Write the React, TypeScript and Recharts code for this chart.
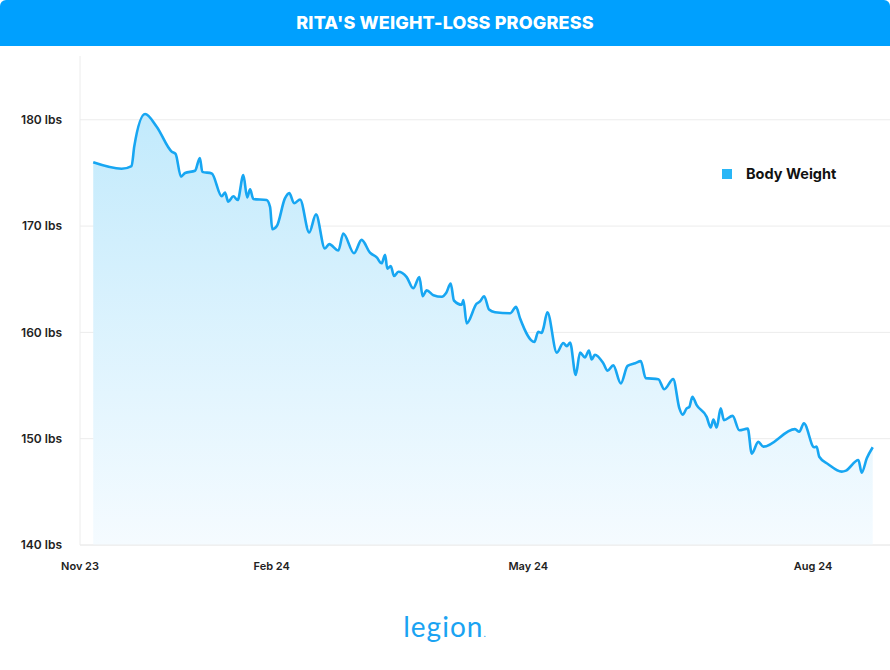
import * as React from "react"
import {
  AreaChart,
  Area,
  XAxis,
  YAxis,
  CartesianGrid,
  Legend,
} from "recharts"

// weigh-in position along the timeline (day index) and weight in lbs
const days = [
  4.9, 15.4, 19.1, 20.1, 24.1, 28.4, 34.0, 35.4, 37.4, 38.9, 42.6, 44.4, 45.3, 48.8,
  52.5, 53.7, 54.9, 56.8, 58.4, 60.5, 61.9, 63.0, 64.2, 69.1, 70.4, 71.2, 72.9, 75.9,
  77.5, 79.3, 81.5, 84.9, 87.4, 90.7, 92.3, 95.7, 97.5, 101.5, 104.3, 107.4, 109.9,
  111.7, 113.0, 113.8, 115.1, 116.3, 117.9, 121.0, 123.4, 125.7, 126.9, 128.4, 130.9,
  134.0, 135.6, 137.3, 138.5, 141.4, 142.0, 143.2, 146.9, 148.1, 149.7, 151.5, 153.7,
  159.3, 161.5, 163.0, 168.3, 169.7, 171.0, 171.6, 173.1, 176.6, 179.0, 180.3, 181.5,
  183.6, 185.2, 187.0, 188.5, 189.5, 190.7, 193.8, 195.4, 197.5, 200.3, 202.8, 205.6,
  207.7, 209.5, 214.2, 216.4, 219.7, 222.0, 223.2, 224.7, 225.7, 226.8, 228.4, 232.1,
  233.6, 234.6, 235.8, 237.3, 238.5, 241.7, 244.2, 247.3, 248.8, 251.2, 253.1, 264.8,
  266.4, 268.1, 271.9, 272.8, 273.8, 277.1, 282.1, 283.7, 288.3, 289.5, 291.4, 293.6,
]

const weights = [
  176.0, 175.4, 175.65, 177.5, 180.55, 179.35, 177.0, 176.8, 174.65, 175.0, 175.2, 176.4,
  175.1, 174.95, 172.8, 173.15, 172.3, 172.8, 172.45, 174.8, 172.7, 173.45, 172.55,
  172.45, 171.8, 169.7, 170.0, 172.6, 173.1, 172.15, 172.5, 169.4, 171.1, 167.9, 168.3,
  167.7, 169.3, 167.45, 168.7, 167.5, 167.05, 166.5, 167.3, 166.0, 166.25, 165.3, 165.7,
  165.2, 164.15, 165.2, 163.4, 163.95, 163.5, 163.35, 163.7, 164.6, 163.0, 162.6, 163.05,
  160.85, 162.7, 162.9, 163.4, 162.15, 161.9, 161.8, 162.4, 161.3, 159.1, 160.05, 159.95,
  160.35, 161.9, 158.1, 159.0, 158.7, 159.05, 156.0, 158.1, 157.65, 158.3, 157.45, 157.9,
  157.1, 156.4, 156.9, 155.2, 156.85, 157.1, 157.3, 155.7, 155.6, 154.65, 155.6, 152.85,
  152.25, 152.85, 153.0, 153.95, 153.15, 152.05, 151.05, 151.8, 151.05, 152.85, 151.75,
  152.15, 150.8, 150.95, 148.6, 149.7, 149.25, 150.9, 150.65, 151.45, 149.2, 149.25,
  148.3, 147.6, 146.9, 147.0, 148.0, 146.8, 148.15, 149.2,
]

const monthTicks = [0, 71, 166, 271.5]
const monthLabels = ["Nov 23", "Feb 24", "May 24", "Aug 24"]
const weightTicks = [140, 150, 160, 170, 180]
const weightDomain = [140, 186]

const BLUE = "#00a0fe"
const LINE = "#17a6f2"
const FONT = "Inter, 'Noto Sans', sans-serif"

const rows = days.map((d, i) => ({ day: d, weight: weights[i] }))

// grid lines only at the labelled weights (no line along the top edge)
const gridRows = ({ offset }: any) => {
  const [lo, hi] = weightDomain
  return weightTicks.map((t) => offset.top + (offset.height * (hi - t)) / (hi - lo))
}

function LegendBox() {
  return (
    <div style={{ display: "flex", alignItems: "center", fontFamily: FONT }}>
      <span style={{ width: 10, height: 10, background: "#29b6f6", display: "inline-block" }} />
      <span style={{ marginLeft: 14, fontSize: 14.5, fontWeight: 700, color: "#111" }}>
        Body Weight
      </span>
    </div>
  )
}

export default function App() {
  return (
    <div style={{ position: "relative", width: 890, height: 670, background: "#fff", fontFamily: FONT }}>
      <style>{`body{margin:0}`}</style>
      <div
        style={{
          position: "absolute",
          top: 0,
          left: 0,
          width: 890,
          height: 46,
          background: BLUE,
          borderRadius: "6px 6px 0 0",
          color: "#fff",
          fontWeight: 800,
          fontSize: 18,
          lineHeight: "46px",
          textAlign: "center",
          letterSpacing: 0.15,
        }}
      >
        RITA'S WEIGHT-LOSS PROGRESS
      </div>

      <div style={{ position: "absolute", top: 0, left: 0 }}>
        <AreaChart width={890} height={590} data={rows} margin={{ top: 56, right: 0, bottom: 0, left: 0 }}>
          <defs>
            <linearGradient id="wfill" x1="0" y1="0" x2="0" y2="1">
              <stop offset="0%" stopColor="#c2eafc" />
              <stop offset="100%" stopColor="#f5fbff" />
            </linearGradient>
          </defs>
          <CartesianGrid
            vertical={false}
            stroke="#ececec"
            horizontalCoordinatesGenerator={gridRows}
          />
          <XAxis
            type="number"
            dataKey="day"
            domain={[0, 300]}
            ticks={monthTicks}
            tickFormatter={(v) => monthLabels[monthTicks.indexOf(v)]}
            height={45}
            tickLine={false}
            tickMargin={11}
            axisLine={{ stroke: "#ececec" }}
            tick={{ fill: "#222", fontSize: 11, fontWeight: 600, fontFamily: FONT }}
          />
          <YAxis
            domain={weightDomain}
            ticks={weightTicks}
            tickFormatter={(v) => `${v} lbs`}
            width={80}
            tickLine={false}
            tickMargin={12}
            axisLine={{ stroke: "#ececec" }}
            tick={{ fill: "#222", fontSize: 12, fontWeight: 600, fontFamily: FONT }}
          />
          <Legend
            layout="vertical"
            align="center"
            verticalAlign="middle"
            wrapperStyle={{ top: 165, left: 722, width: 150 }}
            content={() => <LegendBox />}
          />
          <Area
            type="monotone"
            dataKey="weight"
            name="Body Weight"
            stroke={LINE}
            strokeWidth={2.6}
            fill="url(#wfill)"
            fillOpacity={1}
            dot={false}
            activeDot={false}
            isAnimationActive={false}
          />
        </AreaChart>
      </div>

      <div
        style={{
          position: "absolute",
          top: 609,
          left: 0,
          width: 890,
          textAlign: "center",
          color: "#1aa3f2",
          fontSize: 28,
          fontFamily: "Lato, Inter, sans-serif",
          fontWeight: 400,
          letterSpacing: 1,
        }}
      >
        legion<span style={{ fontSize: 10 }}>.</span>
      </div>
    </div>
  )
}
